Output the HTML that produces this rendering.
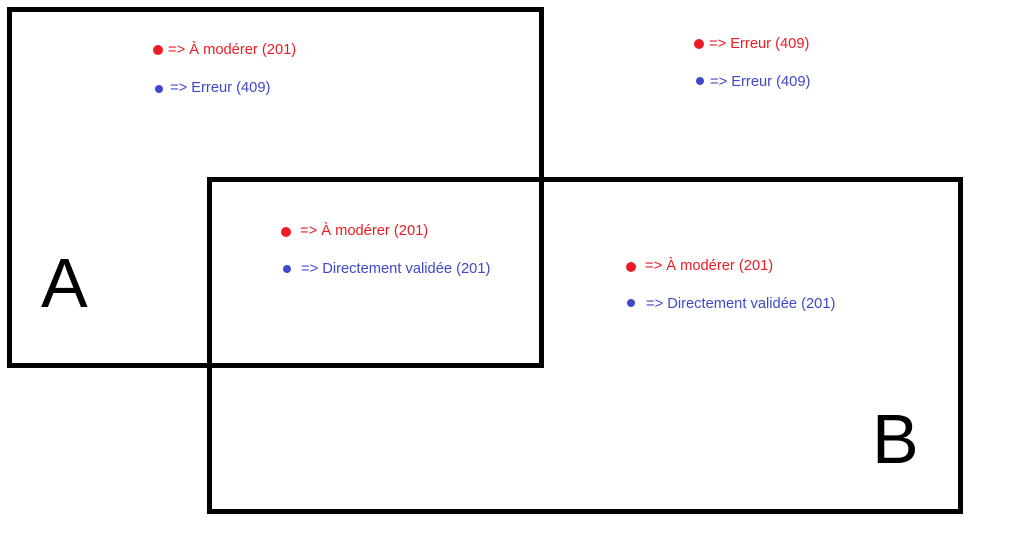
<!DOCTYPE html>
<html><head><style>
body{margin:0;width:1009px;height:538px;background:#fff;position:relative;overflow:hidden;font-family:"Liberation Sans",sans-serif}
.box{position:absolute;border:5px solid #000;box-sizing:border-box}
.t{position:absolute;font-size:14.7px;white-space:nowrap;line-height:16px}
.r{color:#ed1c24}.b{color:#3f48cc}
.d{position:absolute;border-radius:50%}
.dr{width:10px;height:10px;background:#ed1c24}
.db{width:8px;height:8px;background:#3f48cc}
.L{position:absolute;font-size:70px;line-height:70px;color:#000}
</style></head><body>
<div class="box" style="left:7px;top:7px;width:537px;height:361px"></div>
<div class="box" style="left:207px;top:177px;width:756px;height:337px"></div>
<div class="L" style="left:41px;top:248px">A</div>
<div class="L" style="left:872px;top:404px">B</div>

<div class="d dr" style="left:153px;top:45px"></div><div class="t r" style="left:168px;top:42px">=&gt; À modérer (201)</div>
<div class="d db" style="left:155px;top:85px"></div><div class="t b" style="left:170px;top:80px">=&gt; Erreur (409)</div>

<div class="d dr" style="left:694px;top:39px"></div><div class="t r" style="left:709px;top:36px">=&gt; Erreur (409)</div>
<div class="d db" style="left:696px;top:77px"></div><div class="t b" style="left:710px;top:74px">=&gt; Erreur (409)</div>

<div class="d dr" style="left:281px;top:227px"></div><div class="t r" style="left:300px;top:223px">=&gt; À modérer (201)</div>
<div class="d db" style="left:283px;top:265px"></div><div class="t b" style="left:301px;top:261px">=&gt; Directement validée (201)</div>

<div class="d dr" style="left:626px;top:262px"></div><div class="t r" style="left:645px;top:258px">=&gt; À modérer (201)</div>
<div class="d db" style="left:627px;top:299px"></div><div class="t b" style="left:646px;top:296px">=&gt; Directement validée (201)</div>
</body></html>
